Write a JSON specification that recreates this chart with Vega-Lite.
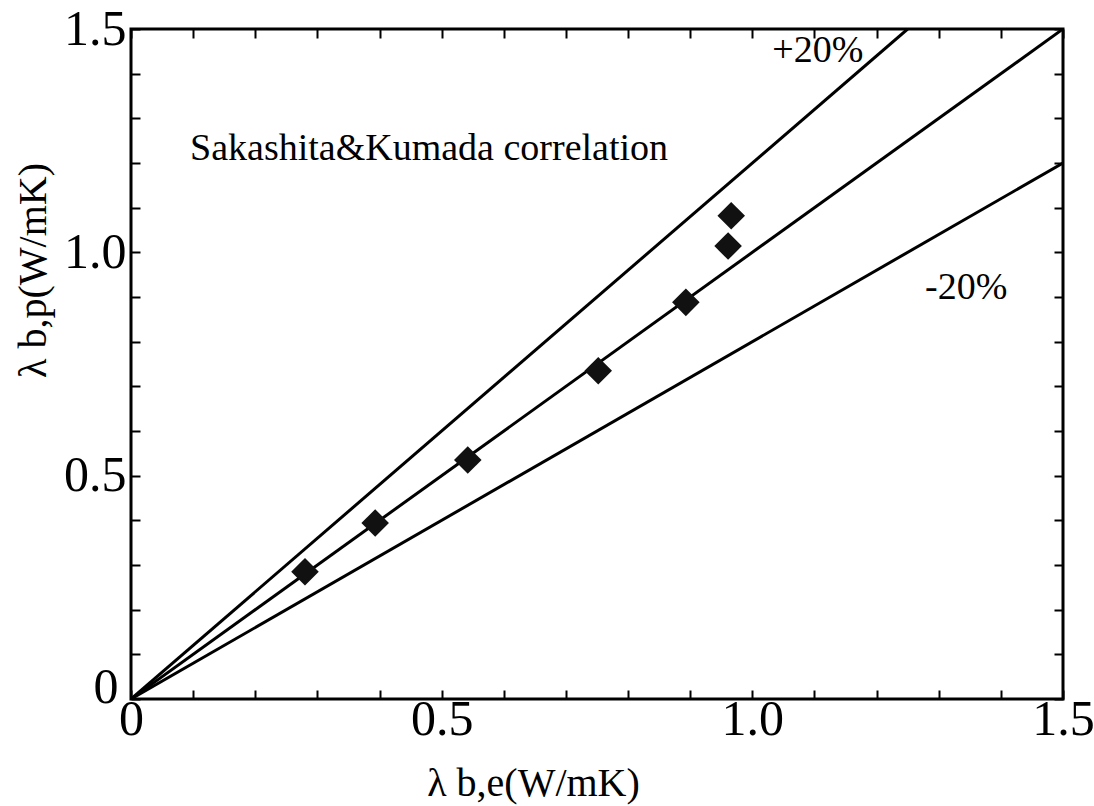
{
  "$schema": "https://vega.github.io/schema/vega-lite/v6.json",
  "width": 932,
  "height": 670,
  "autosize": {"type": "none"},
  "padding": {"left": 131, "top": 29, "right": 31, "bottom": 107},
  "background": "white",
  "config": {
    "view": {"stroke": "black", "strokeWidth": 3},
    "font": "Liberation Serif",
    "axis": {
      "grid": false,
      "domain": false,
      "tickColor": "black",
      "tickWidth": 2,
      "tickSize": -9,
      "labelColor": "black",
      "labelFont": "Liberation Serif",
      "labelFontSize": 50,
      "titleFont": "Liberation Serif",
      "titleFontWeight": "normal",
      "titleColor": "black",
      "titleFontSize": 40
    }
  },
  "datasets": {
    "refLines": [
      {"line": "equal", "be": 0, "bp": 0},
      {"line": "equal", "be": 1.5, "bp": 1.5},
      {"line": "plus20", "be": 0, "bp": 0},
      {"line": "plus20", "be": 1.25, "bp": 1.5},
      {"line": "minus20", "be": 0, "bp": 0},
      {"line": "minus20", "be": 1.5, "bp": 1.2}
    ],
    "measured": [
      {"be": 0.28, "bp": 0.285},
      {"be": 0.393, "bp": 0.394},
      {"be": 0.542, "bp": 0.535},
      {"be": 0.752, "bp": 0.735},
      {"be": 0.893, "bp": 0.888},
      {"be": 0.961, "bp": 1.014},
      {"be": 0.966, "bp": 1.082}
    ],
    "notes": [
      {"label": "Sakashita&Kumada correlation", "be": 0.095, "bp": 1.232},
      {"label": "+20%", "be": 1.032, "bp": 1.45},
      {"label": "-20%", "be": 1.278, "bp": 0.92}
    ]
  },
  "layer": [
    {
      "encoding": {
        "x": {
          "field": "be",
          "type": "quantitative",
          "scale": {"domain": [0, 1.5], "nice": false, "zero": false},
          "axis": {
            "orient": "bottom",
            "values": [0, 0.1, 0.2, 0.3, 0.4, 0.5, 0.6, 0.7, 0.8, 0.9, 1.0, 1.1, 1.2, 1.3, 1.4, 1.5],
            "labelExpr": "abs(datum.value*2 - round(datum.value*2)) < 0.001 ? (datum.value == 0 ? '0' : format(datum.value, '.1f')) : ''",
            "labelPadding": 4,
            "labelFlush": false,
            "title": "λ b,e(W/mK)",
            "titleX": 402,
            "titleY": 84,
            "titleAlign": "center",
            "titleBaseline": "middle"
          }
        },
        "y": {
          "field": "bp",
          "type": "quantitative",
          "scale": {"domain": [0, 1.5], "nice": false, "zero": false},
          "axis": {
            "orient": "left",
            "values": [0, 0.1, 0.2, 0.3, 0.4, 0.5, 0.6, 0.7, 0.8, 0.9, 1.0, 1.1, 1.2, 1.3, 1.4, 1.5],
            "labelExpr": "abs(datum.value*2 - round(datum.value*2)) < 0.001 ? (datum.value == 0 ? '0' : format(datum.value, '.1f')) : ''",
            "labelPadding": {"condition": {"test": "datum.value == 0", "value": 22}, "value": 14},
            "labelOffset": {"condition": {"test": "datum.value == 0", "value": -12}, "value": 0},
            "labelFlush": false,
            "title": "λ b,p(W/mK)",
            "titleX": -98,
            "titleY": 241,
            "titleAngle": -90,
            "titleAlign": "center",
            "titleBaseline": "middle"
          }
        }
      },
      "layer": [
        {
          "data": {"name": "refLines"},
          "mark": {"type": "line", "color": "black", "strokeWidth": 3, "clip": true},
          "encoding": {"detail": {"field": "line"}}
        },
        {
          "data": {"name": "measured"},
          "mark": {"type": "point", "shape": "diamond", "filled": true, "color": "#111111", "opacity": 1, "size": 760}
        },
        {
          "data": {"name": "notes"},
          "mark": {"type": "text", "align": "left", "baseline": "middle", "fontSize": 38, "color": "black", "font": "Liberation Serif"},
          "encoding": {"text": {"field": "label"}}
        }
      ]
    },
    {
      "data": {"name": "refLines"},
      "mark": {"type": "line", "strokeOpacity": 0},
      "encoding": {
        "detail": {"field": "line"},
        "x": {
          "field": "be",
          "type": "quantitative",
          "scale": {"domain": [0, 1.5], "nice": false, "zero": false},
          "axis": {
            "orient": "top",
            "values": [0, 0.1, 0.2, 0.3, 0.4, 0.5, 0.6, 0.7, 0.8, 0.9, 1.0, 1.1, 1.2, 1.3, 1.4, 1.5],
            "labels": false,
            "title": null
          }
        },
        "y": {
          "field": "bp",
          "type": "quantitative",
          "scale": {"domain": [0, 1.5], "nice": false, "zero": false},
          "axis": {
            "orient": "right",
            "values": [0, 0.1, 0.2, 0.3, 0.4, 0.5, 0.6, 0.7, 0.8, 0.9, 1.0, 1.1, 1.2, 1.3, 1.4, 1.5],
            "labels": false,
            "title": null
          }
        }
      }
    }
  ],
  "resolve": {
    "scale": {"x": "independent", "y": "independent"},
    "axis": {"x": "independent", "y": "independent"}
  }
}
